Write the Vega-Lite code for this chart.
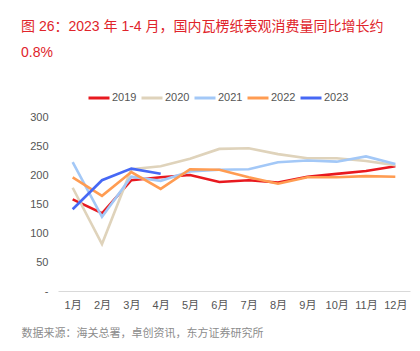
{
  "$schema": "https://vega.github.io/schema/vega-lite/v6.json",
  "autosize": "none",
  "width": 352,
  "height": 174,
  "padding": {"left": 58, "top": 117, "right": 10, "bottom": 60},
  "config": {
    "font": "Liberation Sans, Noto Sans CJK SC, sans-serif",
    "view": {"stroke": null}
  },
  "title": {
    "text": ["图 26：2023 年 1-4 月，国内瓦楞纸表观消费量同比增长约", "0.8%"],
    "anchor": "start",
    "frame": "group",
    "dx": -37,
    "offset": 26,
    "fontSize": 14,
    "fontWeight": "normal",
    "color": "#e0242b",
    "lineHeight": 26
  },
  "data": {
    "values": [
      {"m": "1月", "y": "2019", "v": 158}, {"m": "2月", "y": "2019", "v": 134}, {"m": "3月", "y": "2019", "v": 191}, {"m": "4月", "y": "2019", "v": 196}, {"m": "5月", "y": "2019", "v": 200}, {"m": "6月", "y": "2019", "v": 188}, {"m": "7月", "y": "2019", "v": 191}, {"m": "8月", "y": "2019", "v": 187}, {"m": "9月", "y": "2019", "v": 197}, {"m": "10月", "y": "2019", "v": 202}, {"m": "11月", "y": "2019", "v": 207}, {"m": "12月", "y": "2019", "v": 215},
      {"m": "1月", "y": "2020", "v": 178}, {"m": "2月", "y": "2020", "v": 81}, {"m": "3月", "y": "2020", "v": 210}, {"m": "4月", "y": "2020", "v": 215}, {"m": "5月", "y": "2020", "v": 228}, {"m": "6月", "y": "2020", "v": 245}, {"m": "7月", "y": "2020", "v": 246}, {"m": "8月", "y": "2020", "v": 236}, {"m": "9月", "y": "2020", "v": 229}, {"m": "10月", "y": "2020", "v": 229}, {"m": "11月", "y": "2020", "v": 224}, {"m": "12月", "y": "2020", "v": 217},
      {"m": "1月", "y": "2021", "v": 222}, {"m": "2月", "y": "2021", "v": 128}, {"m": "3月", "y": "2021", "v": 197}, {"m": "4月", "y": "2021", "v": 190}, {"m": "5月", "y": "2021", "v": 206}, {"m": "6月", "y": "2021", "v": 209}, {"m": "7月", "y": "2021", "v": 210}, {"m": "8月", "y": "2021", "v": 222}, {"m": "9月", "y": "2021", "v": 225}, {"m": "10月", "y": "2021", "v": 223}, {"m": "11月", "y": "2021", "v": 232}, {"m": "12月", "y": "2021", "v": 219},
      {"m": "1月", "y": "2022", "v": 196}, {"m": "2月", "y": "2022", "v": 164}, {"m": "3月", "y": "2022", "v": 205}, {"m": "4月", "y": "2022", "v": 176}, {"m": "5月", "y": "2022", "v": 210}, {"m": "6月", "y": "2022", "v": 209}, {"m": "7月", "y": "2022", "v": 196}, {"m": "8月", "y": "2022", "v": 185}, {"m": "9月", "y": "2022", "v": 196}, {"m": "10月", "y": "2022", "v": 196}, {"m": "11月", "y": "2022", "v": 198}, {"m": "12月", "y": "2022", "v": 197},
      {"m": "1月", "y": "2023", "v": 141}, {"m": "2月", "y": "2023", "v": 191}, {"m": "3月", "y": "2023", "v": 211}, {"m": "4月", "y": "2023", "v": 202}
    ]
  },
  "mark": {"type": "line", "strokeWidth": 2.6},
  "encoding": {
    "x": {
      "field": "m",
      "type": "ordinal",
      "sort": ["1月", "2月", "3月", "4月", "5月", "6月", "7月", "8月", "9月", "10月", "11月", "12月"],
      "scale": {"type": "point", "padding": 0.5},
      "axis": {
        "title": "数据来源：海关总署，卓创资讯，东方证券研究所",
        "titleAnchor": "start",
        "titleAlign": "left",
        "titleBaseline": "middle",
        "titleX": -37,
        "titleY": 42,
        "titleFontSize": 11,
        "titleFontWeight": "normal",
        "titleColor": "#8c8c8c",
        "labelAngle": 0,
        "labelFontSize": 11,
        "labelColor": "#555555",
        "labelPadding": 8,
        "ticks": false,
        "domainColor": "#d9d9d9",
        "grid": false
      }
    },
    "y": {
      "field": "v",
      "type": "quantitative",
      "scale": {"domain": [0, 300], "nice": false},
      "axis": {
        "title": null,
        "values": [0, 50, 100, 150, 200, 250, 300],
        "labelExpr": "datum.value == 0 ? '-' : datum.label",
        "labelFontSize": 11,
        "labelColor": "#555555",
        "labelPadding": 10,
        "ticks": false,
        "domain": false,
        "grid": false
      }
    },
    "color": {
      "field": "y",
      "type": "nominal",
      "scale": {
        "domain": ["2019", "2020", "2021", "2022", "2023"],
        "range": ["#e8191f", "#dfd3bb", "#a3c8f7", "#ff9c52", "#4668f5"]
      },
      "legend": {
        "title": null,
        "orient": "none",
        "direction": "horizontal",
        "legendX": 29,
        "legendY": -31,
        "symbolType": "stroke",
        "symbolSize": 441,
        "symbolStrokeWidth": 3,
        "labelFontSize": 11,
        "labelColor": "#555555",
        "labelOffset": 1,
        "columnPadding": -2
      }
    }
  }
}
